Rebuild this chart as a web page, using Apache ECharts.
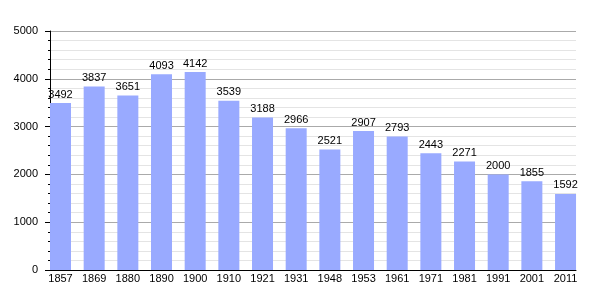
<!DOCTYPE html>
<html><head><meta charset="utf-8">
<script src="https://cdn.jsdelivr.net/npm/echarts@6/dist/echarts.min.js"></script>
<style>html,body{margin:0;padding:0;background:#fff}#c{width:605px;height:300px}</style>
</head><body><div id="c"></div>
<script>
const years = ['1857','1869','1880','1890','1900','1910','1921','1931','1948','1953','1961','1971','1981','1991','2001','2011'];
const population = [3492,3837,3651,4093,4142,3539,3188,2966,2521,2907,2793,2443,2271,2000,1855,1592];
const yMax = 5000;
const yStep = 1000;

const chart = echarts.init(document.getElementById('c'), null, {renderer:'canvas'});
const font = 'Liberation Sans, Arial, sans-serif';
chart.setOption({
  animation:false,
  backgroundColor:'#fff',
  grid:[
    {left:50, right:29, top:31, bottom:30},
    {left:43.67, width:538.7, top:31, bottom:30}
  ],
  xAxis:[
    {type:'value', gridIndex:0, min:0, max:1, show:true,
     axisLine:{show:true, lineStyle:{color:'#000', width:1}},
     axisTick:{show:false}, axisLabel:{show:false}, splitLine:{show:false}},
    {type:'category', gridIndex:1, data:years, boundaryGap:true,
     axisLine:{show:false}, axisTick:{show:false},
     axisLabel:{color:'#000', fontSize:11, fontFamily:font, margin:3}}
  ],
  yAxis:[
    {type:'value', gridIndex:0, min:0, max:yMax, interval:yStep,
     axisLine:{show:true, lineStyle:{color:'#000', width:1}},
     axisTick:{show:true, length:5, lineStyle:{color:'#000'}},
     minorTick:{show:true, splitNumber:5, length:2, lineStyle:{color:'#000'}},
     axisLabel:{color:'#000', fontSize:11, fontFamily:font, margin:12, formatter:v=>String(v)},
     splitLine:{show:true, lineStyle:{color:'#aaaaaa', width:1}},
     minorSplitLine:{show:true, lineStyle:{color:'#e4e4e4', width:1}}},
    {type:'value', gridIndex:1, min:0, max:yMax, show:false}
  ],
  series:[{
    type:'bar', xAxisIndex:1, yAxisIndex:1, data:population, barWidth:21,
    itemStyle:{color:'#99aaff'},
    label:{show:true, position:'top', distance:3, color:'#000', fontSize:11, fontFamily:font}
  }]
});
</script></body></html>
